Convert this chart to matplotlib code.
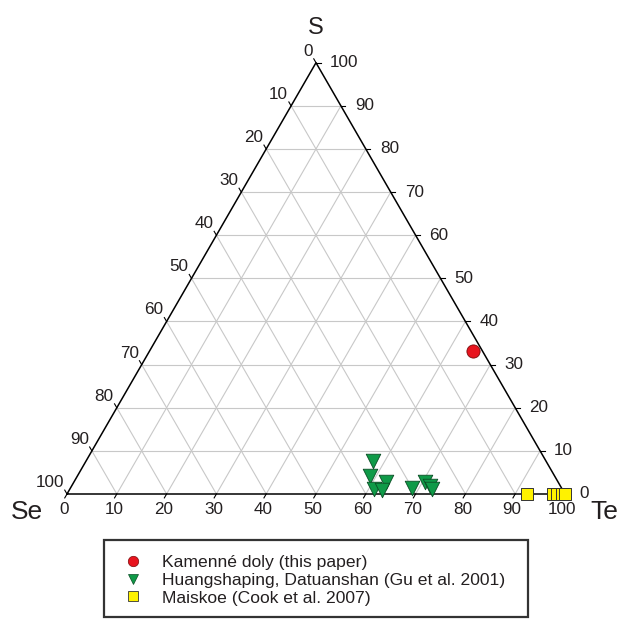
import numpy as np
import matplotlib
matplotlib.use("Agg")
import matplotlib.pyplot as plt
import matplotlib.patches as patches
from matplotlib.lines import Line2D

plt.rcParams["font.family"] = ["Liberation Sans", "DejaVu Sans"]

# ternary data, in percent (S, Te); Se = 100 - S - Te
kamenne_S = [33.2]
kamenne_Te = [64.9]

huang_S = [7.6, 4.1, 2.7, 1.2, 1.0, 1.4, 2.7, 1.8, 1.2]
huang_Te = [57.7, 58.7, 62.8, 61.1, 62.7, 68.5, 70.5, 71.9, 72.6]

maiskoe_S = [0.0, 0.0, 0.0, 0.0, 0.0]
maiskoe_Te = [92.3, 97.6, 98.4, 99.3, 100.0]

tick_values = [0, 10, 20, 30, 40, 50, 60, 70, 80, 90, 100]
labels = ["Kamenné doly (this paper)",
          "Huangshaping, Datuanshan (Gu et al. 2001)",
          "Maiskoe (Cook et al. 2007)"]

H = np.sqrt(3) / 2
PX = 4.98  # pixels per percent


def to_xy(S, Te):
    S = np.asarray(S, dtype=float)
    Te = np.asarray(Te, dtype=float)
    return Te + S / 2, S * H


fig = plt.figure(figsize=(6.19, 6.19), dpi=100, facecolor="white")
ax = fig.add_axes([0, 0, 1, 1])
ax.set_xlim(-67 / PX, (619 - 67) / PX)
ax.set_ylim(-125 / PX, (619 - 125) / PX)
ax.axis("off")

grid_kw = dict(color="#c8c8c8", linewidth=0.8, zorder=1)
for v in tick_values[1:-1]:
    # constant S (horizontal)
    x, y = to_xy([v, v], [0, 100 - v])
    ax.plot(x, y, **grid_kw)
    # constant Te
    x, y = to_xy([0, 100 - v], [v, v])
    ax.plot(x, y, **grid_kw)
    # constant Se
    x, y = to_xy([0, 100 - v], [100 - v, 0])
    ax.plot(x, y, **grid_kw)

# outline
x, y = to_xy([0, 0, 100, 0], [0, 100, 0, 0])
ax.plot(x, y, color="black", linewidth=1.1, zorder=2)

tl = 4.5 / PX
lab_kw = dict(fontsize=12.3, color="#231f20")
for v in tick_values:
    # bottom: Te
    bx, by = to_xy(0, v)
    ax.plot([bx, bx - tl * 0.5], [by, by - tl * H], color="black", lw=0.8)
    ax.text(bx - 3 / PX, by - 16 / PX, str(v), ha="center", va="center", **lab_kw)
    # right: S
    rx, ry = to_xy(v, 100 - v)
    ax.plot([rx, rx + tl], [ry, ry], color="black", lw=0.8)
    ax.text(rx + 14 / PX, ry, str(v), ha="left", va="center", **lab_kw)
    # left: Se
    lx, ly = to_xy(100 - v, 0)
    ax.plot([lx, lx - tl * 0.5], [ly, ly + tl * H], color="black", lw=0.8)
    ax.text(lx - 3 / PX, ly + 4 / PX, str(v), ha="right", va="bottom", **lab_kw)

ax.text(-40 / PX, -18 / PX, "Se", fontsize=19, ha="center", va="center", color="#231f20")
ax.text(100 + 39 / PX, -18 / PX, "Te", fontsize=19, ha="center", va="center", color="#231f20")
ax.text(50, 100 * H + 35 / PX, "S", fontsize=17, ha="center", va="center", color="#231f20")

# data
x, y = to_xy(huang_S, huang_Te)
ax.scatter(x, y, marker="v", s=110, color="#0f9a48", edgecolor="#0b4d25",
           linewidth=0.6, zorder=4)
x, y = to_xy(maiskoe_S, maiskoe_Te)
ax.scatter(x, y, marker="s", s=70, color="#fff200", edgecolor="#333333",
           linewidth=0.7, zorder=4)
x, y = to_xy(kamenne_S, kamenne_Te)
ax.scatter(x, y, marker="o", s=90, color="#e8141e", edgecolor="#7a0a0a",
           linewidth=0.6, zorder=5)

# legend
fig.patches.append(patches.Rectangle((104 / 619, 2 / 619), 424 / 619, 77 / 619,
                                     transform=fig.transFigure, fill=False,
                                     edgecolor="#333333", linewidth=1.6))
handles = [
    Line2D([], [], ls="none", marker="o", ms=7.5, mfc="#e8141e", mec="#7a0a0a", mew=0.5),
    Line2D([], [], ls="none", marker="v", ms=7.5, mfc="#0f9a48", mec="#0b4d25", mew=0.5),
    Line2D([], [], ls="none", marker="s", ms=6.5, mfc="#fff200", mec="#333333", mew=0.6),
]
fig.legend(handles, labels, loc="center left", bbox_to_anchor=(124 / 619, 39 / 619),
           frameon=False, fontsize=12.6, handlelength=1.0, handletextpad=1.17,
           labelspacing=0.15, borderpad=0, borderaxespad=0, labelcolor="#231f20")

fig.savefig("out.png", dpi=100, facecolor="white")
